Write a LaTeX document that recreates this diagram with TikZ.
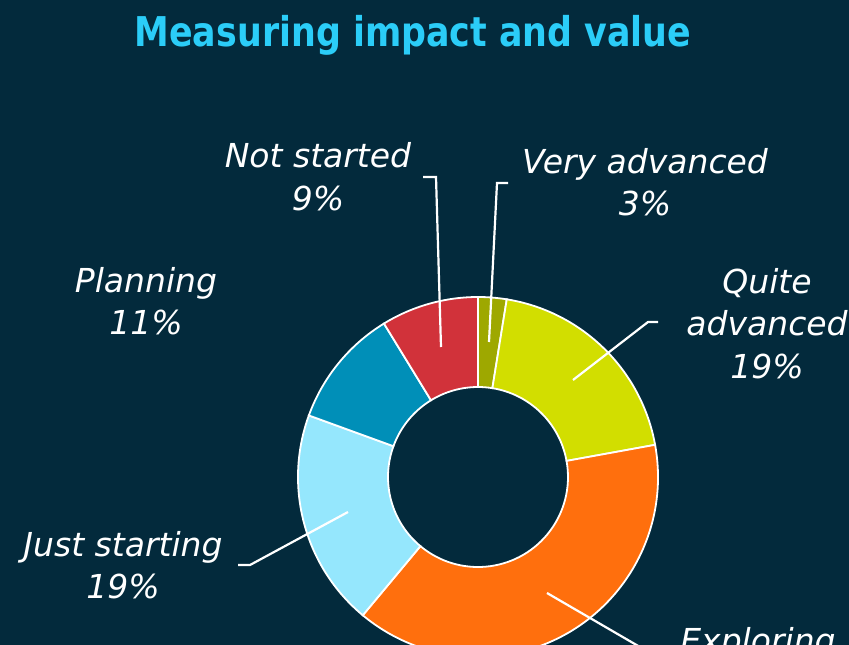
\documentclass[tikz,border=0pt]{standalone}
\usepackage{fontspec}
\setmainfont{DejaVu Sans}
\newfontfamily\titlefont[FakeStretch=0.85]{DejaVu Sans}
\newfontfamily\labfont{DejaVu Sans}
\definecolor{bgc}{HTML}{032A3C}
\definecolor{titlec}{HTML}{2BCDF8}
\definecolor{cvery}{HTML}{9EA800}
\definecolor{cquite}{HTML}{D2DE00}
\definecolor{cexpl}{HTML}{FF6F0D}
\definecolor{cjust}{HTML}{95E7FD}
\definecolor{cplan}{HTML}{008FB8}
\definecolor{cnot}{HTML}{D1323A}
\tikzset{
  titletext/.style={anchor=base, text=titlec, inner sep=0pt,
    font=\titlefont\bfseries\fontsize{41}{41}\selectfont},
  lab/.style={anchor=base, align=center, text=white, inner sep=0pt,
    font=\labfont\itshape\fontsize{33}{42.5}\selectfont},
  slice/.style={draw=white, line width=1.8pt},
  leader/.style={draw=white, line width=2.2pt}
}
\newcommand\donutslice[4]{%
  \filldraw[slice, fill=#3] (#1:180) arc[start angle=#1, end angle=#2, radius=180]
    -- (#2:90) arc[start angle=#2, end angle=#1, radius=90] -- cycle;
  \coordinate (#4) at ({(#1+#2)/2}:135);}
\begin{document}
\begin{tikzpicture}[x=1pt, y=-1pt]
\useasboundingbox (0,0) rectangle (849,645);
\clip (0,0) rectangle (849,645);
\fill[bgc] (0,0) rectangle (849,645);
\node[titletext] (title) at (413,46) {Measuring impact and value};
\begin{scope}[shift={(478,477)}]
  \donutslice{-90}{-80.8}{cvery}{sVery}
  \donutslice{-80.8}{-10.3}{cquite}{sQuite}
  \donutslice{-10.3}{129.8}{cexpl}{sExpl}
  \donutslice{129.8}{200}{cjust}{sJust}
  \donutslice{200}{238.5}{cplan}{sPlan}
  \donutslice{238.5}{270}{cnot}{sNot}
\end{scope}
% labels (anchor = baseline of the last line)
\node[lab] (lNot) at (318,210) {Not started\\9\%};
\node[lab] (lVery) at (645,215.5) {Very advanced\\3\%};
\node[lab] (lPlan) at (146,334.5) {Planning\\11\%};
\node[lab] (lQuite) at (767,378) {Quite\\advanced\\19\%};
\node[lab] (lJust) at (123,598.5) {Just starting\\19\%};
\node[lab] (lExpl) at (758,652) {Exploring};
% leaders
\coordinate (aNot) at (423,177); \coordinate (bNot) at (436,177); \coordinate (cNot) at (441,347);
\coordinate (aVery) at (508,183); \coordinate (bVery) at (497,183); \coordinate (cVery) at (489,342);
\coordinate (aQuite) at (658,322); \coordinate (bQuite) at (648,322); \coordinate (cQuite) at (573,380);
\coordinate (aJust) at (238,565); \coordinate (bJust) at (250,565); \coordinate (cJust) at (348,512);
\coordinate (aExpl) at (652,654); \coordinate (cExpl) at (547,593);
\draw[leader] (aNot) -- (bNot) -- (cNot);
\draw[leader] (aVery) -- (bVery) -- (cVery);
\draw[leader] (aQuite) -- (bQuite) -- (cQuite);
\draw[leader] (aJust) -- (bJust) -- (cJust);
\draw[leader] (aExpl) -- (cExpl);
\end{tikzpicture}
\end{document}
